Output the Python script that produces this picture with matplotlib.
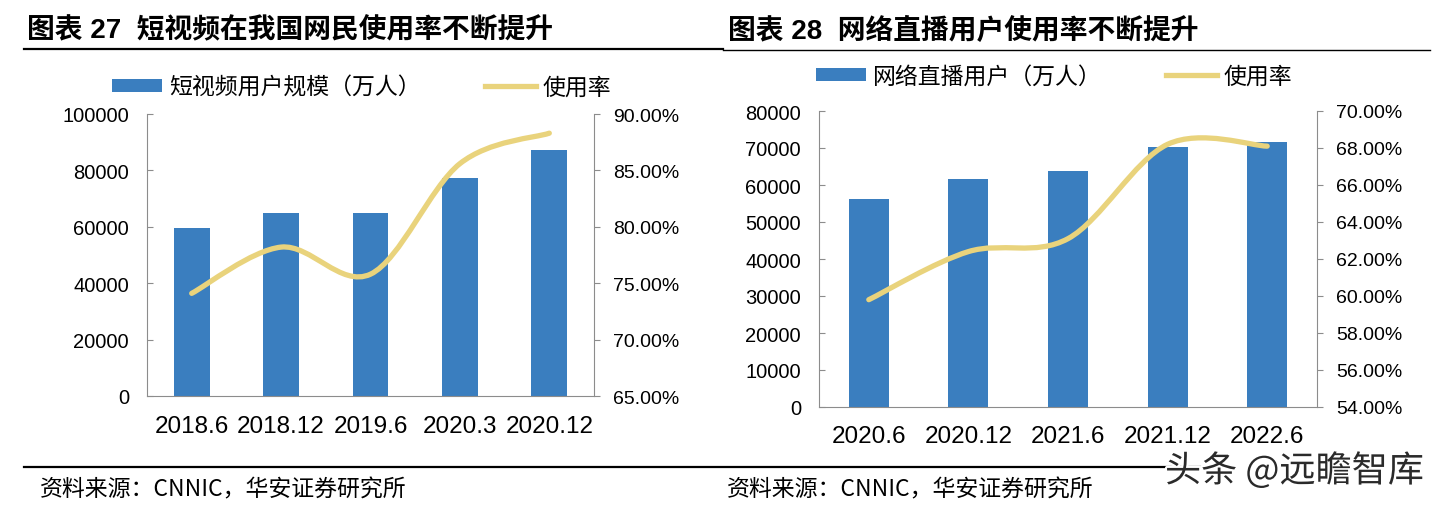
import numpy as np
import matplotlib
matplotlib.use("Agg")
from matplotlib import pyplot as plt
from matplotlib.path import Path
from matplotlib.patches import PathPatch, Patch
from matplotlib.lines import Line2D
import matplotlib.patheffects as pe

plt.rcParams['font.family'] = ['Liberation Sans', 'Noto Sans CJK SC']

# 图表27 数据
cats_27 = ["2018.6", "2018.12", "2019.6", "2020.3", "2020.12"]
users_27 = [59400, 64798, 64764, 77325, 87335]
rate_27 = [74.1, 78.2, 75.8, 85.6, 88.3]

# 图表28 数据
cats_28 = ["2020.6", "2020.12", "2021.6", "2021.12", "2022.6"]
users_28 = [56230, 61685, 63769, 70337, 71627]
rate_28 = [59.8, 62.4, 63.1, 68.2, 68.1]

W, H = 1447, 506
BAR = "#3A7EBF"
LINE = "#E9D37C"
GRAY = "#8C8C8C"
CJK = ['Noto Sans CJK SC', 'Liberation Sans']


def fx(x):
    return x / W


def fy(y):
    return 1 - y / H


def smooth_path(xs, ys):
    # 平滑曲线 (类似 Excel 的平滑线)
    n = len(xs)
    verts = [(xs[0], ys[0])]
    codes = [Path.MOVETO]
    for i in range(n - 1):
        a = i - 1 if i > 0 else i
        b = i + 2 if i + 2 < n else i + 1
        c1 = (xs[i] + (xs[i + 1] - xs[a]) / 6, ys[i] + (ys[i + 1] - ys[a]) / 6)
        c2 = (xs[i + 1] - (xs[b] - xs[i]) / 6, ys[i + 1] - (ys[b] - ys[i]) / 6)
        verts += [c1, c2, (xs[i + 1], ys[i + 1])]
        codes += [Path.CURVE4] * 3
    return Path(verts, codes)


def panel(rect, cats, users, rates, ymax, ystep, rmin, rmax, rstep, xpad):
    ax = fig.add_axes(rect)
    x = np.arange(len(cats))
    ax.bar(x, users, width=0.4, color=BAR, zorder=2)
    ax.set_xlim(-0.5, len(cats) - 0.5)
    ax.set_ylim(0, ymax)
    ax.set_yticks(np.arange(0, ymax + 1, ystep))
    ax.set_xticks(x)
    ax.set_xticklabels(cats, fontsize=17.5)
    ax.tick_params(axis='x', length=0, pad=xpad)
    ax.tick_params(axis='y', direction='in', length=4, color=GRAY, labelsize=14.5, pad=13)
    for s in ['top', 'right']:
        ax.spines[s].set_visible(False)
    for s in ['left', 'bottom']:
        ax.spines[s].set_color(GRAY)

    ax2 = ax.twinx()
    ax2.set_ylim(rmin, rmax)
    ticks = np.arange(rmin, rmax + 0.001, rstep)
    ax2.set_yticks(ticks)
    ax2.set_yticklabels(["%.2f%%" % t for t in ticks])
    ax2.tick_params(axis='y', direction='out', length=4, color=GRAY, labelsize=14, pad=10)
    for s in ['top', 'left', 'bottom']:
        ax2.spines[s].set_visible(False)
    ax2.spines['right'].set_color(GRAY)
    ax2.add_patch(PathPatch(smooth_path(list(x), rates), fill=False, edgecolor=LINE,
                            lw=3.8, capstyle='round', joinstyle='round', zorder=3))
    return ax


fig = plt.figure(figsize=(W / 100, H / 100), dpi=100)

panel([fx(147), fy(397), (594 - 147) / W, (397 - 115) / H],
      cats_27, users_27, rate_27, 100000, 20000, 65, 90, 5, 14)
panel([fx(819), fy(408), (1317 - 819) / W, (408 - 112) / H],
      cats_28, users_28, rate_28, 80000, 10000, 54, 70, 2, 13)

# 标题
fig.text(fx(27), fy(31), "图表 27  短视频在我国网民使用率不断提升", fontsize=20,
         fontweight='bold', va='center', ha='left')
fig.text(fx(728), fy(31), "图表 28  网络直播用户使用率不断提升", fontsize=20,
         fontweight='bold', va='center', ha='left')

# 分隔线
fig.add_artist(Line2D([fx(24), fx(723)], [fy(50), fy(50)], color='black', lw=1.6))
fig.add_artist(Line2D([fx(723), fx(1430)], [fy(51), fy(51)], color='black', lw=1.0))
fig.add_artist(Line2D([fx(24), fx(1200)], [fy(467.5), fy(467.5)], color='black', lw=1.6))

# 图例
for lx, ly, name in [(112, 88, "短视频用户规模（万人）"), (816, 77, "网络直播用户（万人）")]:
    handles = [Patch(facecolor=BAR, edgecolor='none'),
               Line2D([], [], color=LINE, lw=3.8)]
    fig.legend(handles, [name, "使用率"], loc='center left', ncol=2,
               bbox_to_anchor=(fx(lx), fy(ly)), frameon=False, borderpad=0,
               borderaxespad=0, handlelength=2.2, handleheight=0.5,
               handletextpad=0.3, columnspacing=2.8,
               prop={'family': CJK, 'size': 16.5})

# 资料来源
fig.text(fx(40), fy(490), "资料来源：CNNIC，华安证券研究所", fontsize=16.5,
         family=CJK, va='center', ha='left')
fig.text(fx(727), fy(490), "资料来源：CNNIC，华安证券研究所", fontsize=16.5,
         family=CJK, va='center', ha='left')

# 水印
fig.text(fx(1165), fy(472), "头条 @远瞻智库", fontsize=26, family=CJK,
         color='#2a2a2a', va='center', ha='left',
         path_effects=[pe.withStroke(linewidth=3, foreground='white')])

fig.savefig("out.png", dpi=100)
